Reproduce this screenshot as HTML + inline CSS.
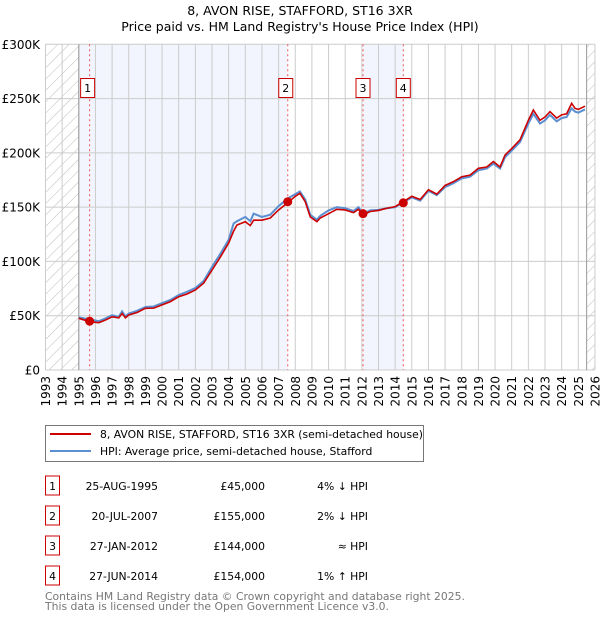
<!DOCTYPE html>
<html><head><meta charset="utf-8"><style>
body{margin:0;background:#fff;font-family:"DejaVu Sans","Liberation Sans",sans-serif;}
#wrap{position:relative;width:600px;height:620px;overflow:hidden;}
</style></head><body><div id="wrap">
<svg id="chart" width="600" height="620" xmlns="http://www.w3.org/2000/svg" font-family="DejaVu Sans, Liberation Sans, sans-serif">
<defs><pattern id="hatch" width="8" height="8" patternUnits="userSpaceOnUse" patternTransform="rotate(45)"><rect width="8" height="8" fill="#fff"/><line x1="0" y1="0" x2="0" y2="8" stroke="#bbb" stroke-width="1"/></pattern></defs>
<text x="300" y="15" text-anchor="middle" font-size="12.5">8, AVON RISE, STAFFORD, ST16 3XR</text>
<text x="300" y="31" text-anchor="middle" font-size="12.5">Price paid vs. HM Land Registry's House Price Index (HPI)</text>
<g id="bg"></g><g id="grid"></g><g id="series"></g><g id="axes"></g>
<g>
<rect x="45.5" y="425.5" width="378" height="36" fill="#fff" stroke="#777"/>
<line x1="50" y1="434" x2="91" y2="434" stroke="#cc0000" stroke-width="2"/>
<text x="100" y="438" font-size="10.8">8, AVON RISE, STAFFORD, ST16 3XR (semi-detached house)</text>
<line x1="50" y1="451" x2="91" y2="451" stroke="#5b8fd0" stroke-width="2"/>
<text x="100" y="455" font-size="10.8">HPI: Average price, semi-detached house, Stafford</text>
</g>
<g id="table" font-size="10.8"></g>
<text x="45" y="600" font-size="10.8" fill="#777">Contains HM Land Registry data © Crown copyright and database right 2025.</text>
<text x="45" y="610" font-size="10.8" fill="#777">This data is licensed under the Open Government Licence v3.0.</text>
</svg>
<script>
const priceYears=[1995.0,1995.65,1996.2,1996.6,1997.0,1997.4,1997.6,1997.8,1998.0,1998.5,1999.0,1999.5,2000.0,2000.5,2001.0,2001.5,2002.0,2002.5,2003.0,2003.5,2004.0,2004.3,2004.5,2005.0,2005.3,2005.5,2006.0,2006.5,2007.0,2007.55,2008.0,2008.28,2008.6,2008.9,2009.3,2009.5,2010.0,2010.5,2011.0,2011.5,2011.8,2012.07,2012.5,2013.0,2013.5,2014.0,2014.49,2015.0,2015.5,2016.0,2016.5,2017.0,2017.5,2018.0,2018.5,2019.0,2019.5,2019.9,2020.3,2020.6,2021.0,2021.5,2022.0,2022.3,2022.7,2023.0,2023.3,2023.7,2024.0,2024.3,2024.6,2024.8,2025.0,2025.4];
const priceValues=[47.6,44.5,43.6,46,49,48,52,48,50.7,53,56.8,57,60,63,67.5,70,73.7,80,92,104,117,128,133.6,136.6,133,138,138,140,147.4,154,160,162.7,155,141,136.6,140,144,148,147.4,145,148,142.8,146,147,149,150.5,155,160,157,166,162,170,173.5,178,179.5,185.8,187,192,187,198,204,212,230,239.5,230,233,238,232,235,236,245.6,241,240,243];
const hpiYears=[1995.0,1995.5,1996.2,1996.6,1997.0,1997.4,1997.6,1997.8,1998.0,1998.5,1999.0,1999.5,2000.0,2000.5,2001.0,2001.5,2002.0,2002.5,2003.0,2003.5,2004.0,2004.3,2004.5,2005.0,2005.3,2005.5,2006.0,2006.5,2007.0,2007.55,2008.0,2008.28,2008.6,2008.9,2009.3,2009.5,2010.0,2010.5,2011.0,2011.5,2011.8,2012.07,2012.5,2013.0,2013.5,2014.0,2014.49,2015.0,2015.5,2016.0,2016.5,2017.0,2017.5,2018.0,2018.5,2019.0,2019.5,2019.9,2020.3,2020.6,2021.0,2021.5,2022.0,2022.3,2022.7,2023.0,2023.3,2023.7,2024.0,2024.3,2024.6,2024.8,2025.0,2025.4];
const hpiValues=[48.5,47,45,47.5,50.5,49,54,49.5,52,54.5,58,58.5,61.5,64.5,69,72,75.5,82,95,107,120,135,137,141,137,144,141,143,151,158,162,164.5,157,143,138.5,142,147,150,149,146.5,150,144,147,147.5,149,150,154.5,159,156,165,161,168.5,172,176.5,178,184,185.5,190,185.5,196,202,210,227,236,227,230,235,229,232,233,241,238,237,240];
const yTicks=[0,50,100,150,200,250,300];
const yTickLabels=["£0","£50K","£100K","£150K","£200K","£250K","£300K"];
const saleYears=[1995.65,2007.55,2012.07,2014.49];
const saleValues=[45,155,144,154];
const saleLabels=["1","2","3","4"];
const saleDates=["25-AUG-1995","20-JUL-2007","27-JAN-2012","27-JUN-2014"];
const salePrices=["£45,000","£155,000","£144,000","£154,000"];
const saleHpi=["4% ↓ HPI","2% ↓ HPI","≈ HPI","1% ↑ HPI"];

const NS="http://www.w3.org/2000/svg";
const X0=45.5,YW=16.65,Y0=370,YK=325.7/300;
const xs=y=>X0+(y-1993)*YW;
const yv=v=>Y0-v*YK;
function mk(tag,attrs,parent){const e=document.createElementNS(NS,tag);for(const k in attrs)e.setAttribute(k,attrs[k]);parent.appendChild(e);return e;}
const bg=document.getElementById('bg'),grid=document.getElementById('grid'),ser=document.getElementById('series'),axes=document.getElementById('axes'),tbl=document.getElementById('table');
const TOPY=yv(300);
let r=mk('rect',{x:xs(1993),y:TOPY,width:xs(1995)-xs(1993),height:Y0-TOPY,fill:'url(#hatch)'},bg);


r=mk('rect',{x:xs(2025.5),y:TOPY,width:xs(2026)-xs(2025.5),height:Y0-TOPY,fill:'url(#hatch)'},bg);


r=mk('rect',{x:xs(1995),y:TOPY,width:xs(saleYears[1])-xs(1995),height:Y0-TOPY,fill:'#f2f5fd'},bg);


r=mk('rect',{x:xs(saleYears[2]),y:TOPY,width:xs(saleYears[3])-xs(saleYears[2]),height:Y0-TOPY,fill:'#f2f5fd'},bg);


for(let yr=1993;yr<=2026;yr++){
 let l=mk('line',{x1:xs(yr),x2:xs(yr),y1:TOPY,y2:Y0,stroke:'#ccc','stroke-width':1},grid);
 
 
 let t=mk('text',{x:0,y:0,'font-size':12,'text-anchor':'end',transform:`translate(${xs(yr)+4.5},376) rotate(-90)`},axes);
 t.textContent=yr;
 
 
}
yTicks.forEach((v,i)=>{
 let l=mk('line',{x1:xs(1993),x2:xs(2026),y1:yv(v),y2:yv(v),stroke:'#ccc','stroke-width':1},grid);
 
 
 let t=mk('text',{x:40,y:yv(v)+4.5,'font-size':12,'text-anchor':'end'},axes);
 t.textContent=yTickLabels[i];
 
 
});
let b=mk('line',{x1:xs(1995),x2:xs(1995),y1:TOPY,y2:Y0,stroke:'#999'},grid);


b=mk('line',{x1:xs(2025.5),x2:xs(2025.5),y1:TOPY,y2:Y0,stroke:'#999'},grid);


saleYears.forEach((s,i)=>{
 let l=mk('line',{x1:xs(s),x2:xs(s),y1:TOPY,y2:Y0,stroke:'#e55','stroke-width':1,'stroke-dasharray':'2,3'},grid);
 
 
 const off=(i<2?2:0);
 let bx=mk('rect',{x:xs(s)-7-off,y:78.5,width:14,height:19,fill:'#fff',stroke:'#cc0000'},axes);
 
 
 let t=mk('text',{x:xs(s)-off,y:92,'font-size':11,'text-anchor':'middle'},axes);
 t.textContent=saleLabels[i];
 
 
});
let p=mk('polyline',{points:hpiYears.map((y,i)=>xs(y)+','+yv(hpiValues[i])).join(' '),fill:'none',stroke:'#5b8fd0','stroke-width':2},ser);


p=mk('polyline',{points:priceYears.map((y,i)=>xs(y)+','+yv(priceValues[i])).join(' '),fill:'none',stroke:'#cc0000','stroke-width':1.6},ser);


saleYears.forEach((s,i)=>{
 let c=mk('circle',{cx:xs(s),cy:yv(saleValues[i]),r:4.5,fill:'#cc0000'},ser);
 
 
 const ry=483+i*30;
 let bx=mk('rect',{x:45.5,y:ry-7,width:14,height:19,fill:'#fff',stroke:'#cc0000'},tbl);
 
 
 let t=mk('text',{x:52.5,y:ry+7,'text-anchor':'middle'},tbl);t.textContent=saleLabels[i];
 
 
 t=mk('text',{x:158,y:ry+7,'text-anchor':'end'},tbl);t.textContent=saleDates[i];
 
 
 t=mk('text',{x:265,y:ry+7,'text-anchor':'end'},tbl);t.textContent=salePrices[i];
 
 
 t=mk('text',{x:368,y:ry+7,'text-anchor':'end'},tbl);t.textContent=saleHpi[i];
 
 
});
</script>
</div></body></html>
